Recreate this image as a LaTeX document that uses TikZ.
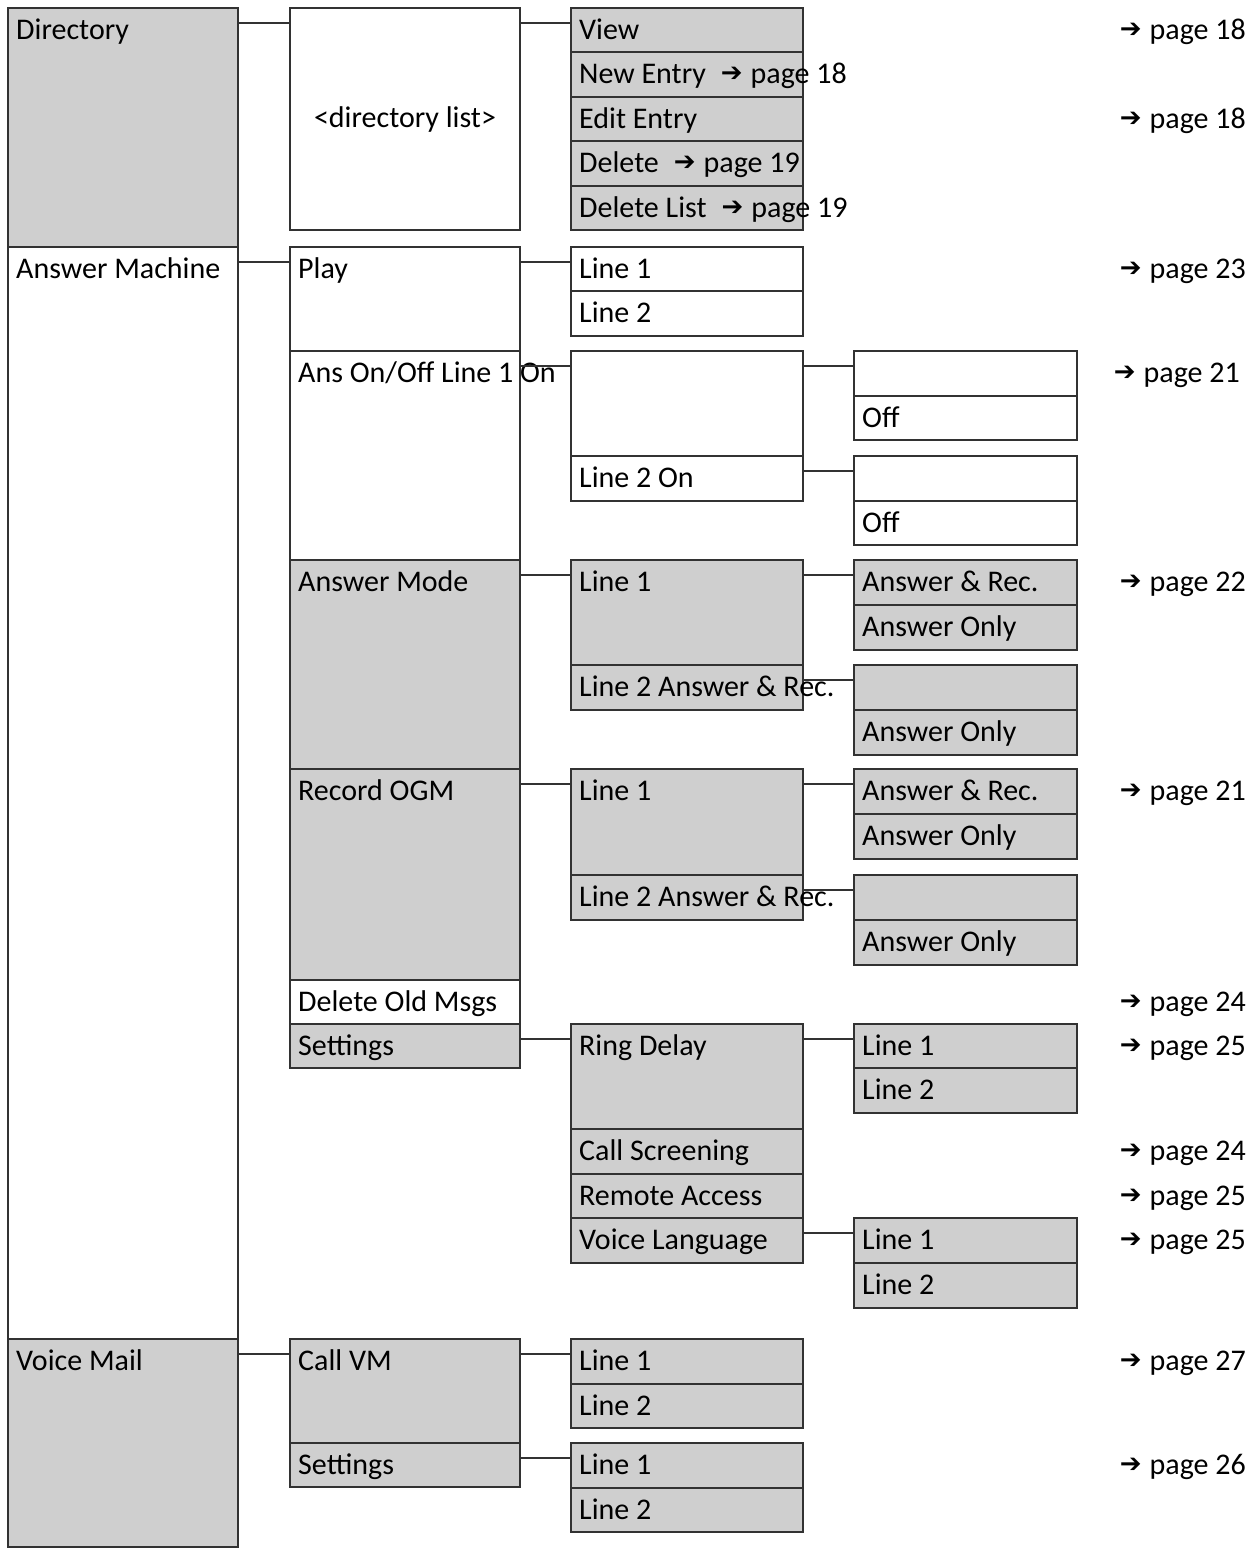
\documentclass[tikz,border=0pt]{standalone}
\usepackage{fontspec}
\setmainfont{Carlito}
\newfontfamily\arrowfont{DejaVu Sans}
\definecolor{boxgray}{RGB}{207,207,207}
\definecolor{edge}{RGB}{50,50,50}
\newcommand{\rarr}{\raisebox{1.5pt}{\arrowfont\fontsize{26}{26}\selectfont ➔}}
\newcommand{\pg}[1]{\rarr\hspace{8pt}page~#1}
\tikzset{
  boxst/.style={draw=edge, line width=1.7pt, outer sep=0pt, inner sep=0pt, anchor=north west},
  lbl/.style={anchor=base west, inner sep=0pt, text=black, font=\fontsize{30}{35}\selectfont},
  ref/.style={anchor=base east, inner sep=0pt, text=black, font=\fontsize{30}{35}\selectfont},
  conn/.style={draw=edge, line width=1.7pt}
}
% name, fill, x1, y1, x2, y2, text
\newcommand{\menubox}[7]{%
  \node[boxst, fill=#2, minimum width={#5pt-#3pt}, minimum height={#6pt-#4pt}] (#1) at (#3,#4) {};
  \node[lbl] (#1-t) at (#3+8,#4+31) {#7};}
\newcommand{\linkto}[2]{\draw[conn] ([yshift=-15pt]#1.north east) -- ([yshift=-15pt]#2.north west);}
\begin{document}
\begin{tikzpicture}[x=1pt,y=-1pt]
\useasboundingbox[fill=white] (0,0) rectangle (1254,1548);
% column 1
\menubox{dir}{boxgray}{8}{8}{238}{247}{Directory}
\menubox{am}{white}{8}{247}{238}{1339}{Answer Machine}
\menubox{vm}{boxgray}{8}{1339}{238}{1547}{Voice Mail}
% column 2
\node[boxst, fill=white, minimum width=230pt, minimum height=222pt] (dlist) at (290,8) {};
\node[inner sep=0pt, font=\fontsize{30}{35}\selectfont] (dlist-t) at (dlist.center) {<directory list>};
\menubox{play}{white}{290}{247}{520}{351}{Play}
\menubox{onoff}{white}{290}{351}{520}{560}{Ans On/Off Line 1 On}
\menubox{amode}{boxgray}{290}{560}{520}{769}{Answer Mode}
\menubox{ogm}{boxgray}{290}{769}{520}{980}{Record OGM}
\menubox{delold}{white}{290}{980}{520}{1024}{Delete Old Msgs}
\menubox{amset}{boxgray}{290}{1024}{520}{1068}{Settings}
\menubox{callvm}{boxgray}{290}{1339}{520}{1443}{Call VM}
\menubox{vmset}{boxgray}{290}{1443}{520}{1487}{Settings}
% column 3
\menubox{view}{boxgray}{571}{8}{803}{52}{View}
\menubox{newe}{boxgray}{571}{52}{803}{97}{New Entry\hspace{15pt}\pg{18}}
\menubox{edit}{boxgray}{571}{97}{803}{141}{Edit Entry}
\menubox{del}{boxgray}{571}{141}{803}{186}{Delete\hspace{15pt}\pg{19}}
\menubox{dell}{boxgray}{571}{186}{803}{230}{Delete List\hspace{15pt}\pg{19}}
\menubox{playA}{white}{571}{247}{803}{291}{Line 1}
\menubox{playB}{white}{571}{291}{803}{336}{Line 2}
\menubox{onA}{white}{571}{351}{803}{456}{}
\menubox{onB}{white}{571}{456}{803}{501}{Line 2 On}
\menubox{modeA}{boxgray}{571}{560}{803}{665}{Line 1}
\menubox{modeB}{boxgray}{571}{665}{803}{710}{Line 2 Answer \& Rec.}
\menubox{ogmA}{boxgray}{571}{769}{803}{875}{Line 1}
\menubox{ogmB}{boxgray}{571}{875}{803}{920}{Line 2 Answer \& Rec.}
\menubox{ring}{boxgray}{571}{1024}{803}{1129}{Ring Delay}
\menubox{screen}{boxgray}{571}{1129}{803}{1174}{Call Screening}
\menubox{remote}{boxgray}{571}{1174}{803}{1218}{Remote Access}
\menubox{lang}{boxgray}{571}{1218}{803}{1263}{Voice Language}
\menubox{cvA}{boxgray}{571}{1339}{803}{1384}{Line 1}
\menubox{cvB}{boxgray}{571}{1384}{803}{1428}{Line 2}
\menubox{vsA}{boxgray}{571}{1443}{803}{1488}{Line 1}
\menubox{vsB}{boxgray}{571}{1488}{803}{1532}{Line 2}
% column 4
\menubox{offA1}{white}{854}{351}{1077}{396}{}
\menubox{offA2}{white}{854}{396}{1077}{440}{Off}
\menubox{offB1}{white}{854}{456}{1077}{501}{}
\menubox{offB2}{white}{854}{501}{1077}{545}{Off}
\menubox{mA1}{boxgray}{854}{560}{1077}{605}{Answer \& Rec.}
\menubox{mA2}{boxgray}{854}{605}{1077}{650}{Answer Only}
\menubox{mB1}{boxgray}{854}{665}{1077}{710}{}
\menubox{mB2}{boxgray}{854}{710}{1077}{755}{Answer Only}
\menubox{oA1}{boxgray}{854}{769}{1077}{814}{Answer \& Rec.}
\menubox{oA2}{boxgray}{854}{814}{1077}{859}{Answer Only}
\menubox{oB1}{boxgray}{854}{875}{1077}{920}{}
\menubox{oB2}{boxgray}{854}{920}{1077}{965}{Answer Only}
\menubox{rdA}{boxgray}{854}{1024}{1077}{1068}{Line 1}
\menubox{rdB}{boxgray}{854}{1068}{1077}{1113}{Line 2}
\menubox{vlA}{boxgray}{854}{1218}{1077}{1263}{Line 1}
\menubox{vlB}{boxgray}{854}{1263}{1077}{1308}{Line 2}
% connectors
\linkto{dir}{dlist}
\linkto{am}{play}
\linkto{vm}{callvm}
\linkto{dlist}{view}
\linkto{play}{playA}
\linkto{onoff}{onA}
\linkto{amode}{modeA}
\linkto{ogm}{ogmA}
\linkto{amset}{ring}
\linkto{callvm}{cvA}
\linkto{vmset}{vsA}
\linkto{onA}{offA1}
\linkto{onB}{offB1}
\linkto{modeA}{mA1}
\linkto{modeB}{mB1}
\linkto{ogmA}{oA1}
\linkto{ogmB}{oB1}
\linkto{ring}{rdA}
\linkto{lang}{vlA}
% page references
\node[ref] (r1) at (1246,39) {\pg{18}};
\node[ref] (r2) at (1246,128) {\pg{18}};
\node[ref] (r3) at (1246,278) {\pg{23}};
\node[ref] (r4) at (1240,382) {\pg{21}};
\node[ref] (r5) at (1246,591) {\pg{22}};
\node[ref] (r6) at (1246,800) {\pg{21}};
\node[ref] (r7) at (1246,1011) {\pg{24}};
\node[ref] (r8) at (1246,1055) {\pg{25}};
\node[ref] (r9) at (1246,1160) {\pg{24}};
\node[ref] (r10) at (1246,1205) {\pg{25}};
\node[ref] (r11) at (1246,1249) {\pg{25}};
\node[ref] (r12) at (1246,1370) {\pg{27}};
\node[ref] (r13) at (1246,1474) {\pg{26}};
\end{tikzpicture}
\end{document}
